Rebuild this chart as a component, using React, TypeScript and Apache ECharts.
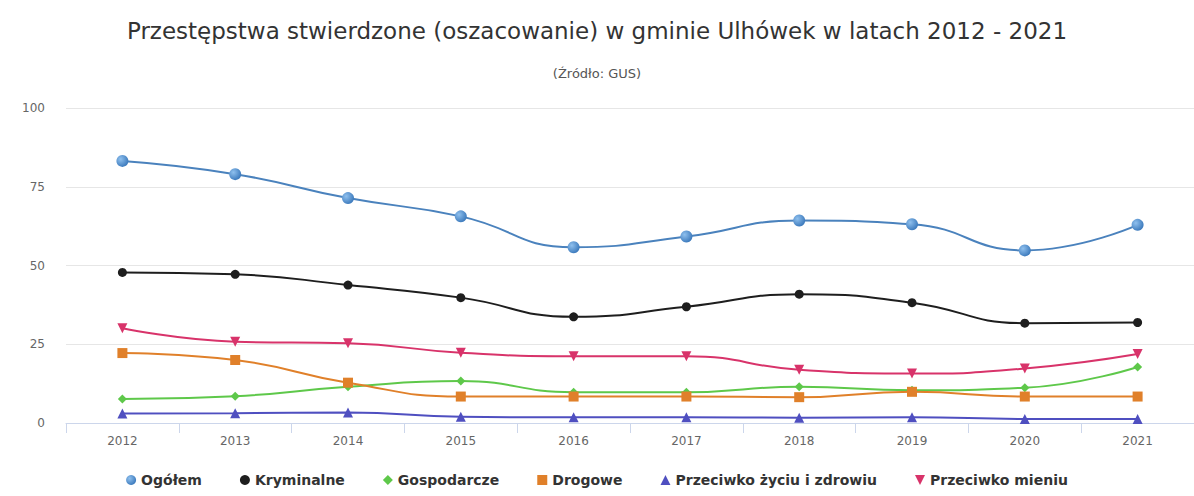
import React, { useEffect, useRef } from "react";
import * as echarts from "echarts";

const years = ["2012", "2013", "2014", "2015", "2016", "2017", "2018", "2019", "2020", "2021"];
const ogolem = [83.2, 79.0, 71.4, 65.6, 55.8, 59.2, 64.3, 63.1, 54.8, 62.9];
const kryminalne = [47.8, 47.2, 43.8, 39.8, 33.7, 36.9, 40.9, 38.2, 31.7, 31.9];
const gospodarcze = [7.6, 8.5, 11.5, 13.3, 9.8, 9.8, 11.5, 10.4, 11.2, 17.8];
const drogowe = [22.2, 20.0, 12.8, 8.4, 8.4, 8.4, 8.2, 9.9, 8.4, 8.4];
const zycie = [3.0, 3.1, 3.3, 2.0, 1.8, 1.8, 1.7, 1.8, 1.3, 1.3];
const mienie = [30.1, 25.8, 25.3, 22.3, 21.2, 21.2, 16.9, 15.7, 17.3, 21.9];
const yTicks = [0, 25, 50, 75, 100];

export default function App() {
  const ref = useRef<HTMLDivElement>(null);
  useEffect(() => {
    document.body.style.margin = "0";
    const chart = echarts.init(ref.current!, null, { renderer: "svg" });
    const mk = (name: string, data: number[], color: string, symbol: string, size: number, markerColor?: any) => ({
      name,
      type: "line",
      data,
      smooth: true,
      symbol,
      symbolSize: size,
      showSymbol: true,
      lineStyle: { color, width: 2 },
      itemStyle: { color: markerColor || color, borderWidth: 0 },
    });
    const blueGrad = new echarts.graphic.RadialGradient(0.35, 0.35, 0.7, [
      { offset: 0, color: "#8fc0ee" },
      { offset: 1, color: "#3a78bb" },
    ]);
    chart.setOption({
      animation: false,
      backgroundColor: "#ffffff",
      title: [
        {
          text: "Przestępstwa stwierdzone (oszacowanie) w gminie Ulhówek w latach 2012 - 2021",
          left: "center",
          top: 14,
          textStyle: { fontFamily: "DejaVu Sans", fontSize: 23, fontWeight: "normal", color: "#333333" },
        },
        {
          text: "(Źródło: GUS)",
          left: "center",
          top: 62,
          textStyle: { fontFamily: "DejaVu Sans", fontSize: 13, fontWeight: "normal", color: "#555555" },
        },
      ],
      legend: {
        bottom: 4,
        left: "center",
        itemWidth: 10,
        itemHeight: 10,
        itemGap: 38,
        textStyle: { fontFamily: "DejaVu Sans", fontSize: 14, fontWeight: "bold", color: "#333333" },
        data: [
          { name: "Ogółem", icon: "circle" },
          { name: "Kryminalne", icon: "circle" },
          { name: "Gospodarcze", icon: "diamond" },
          { name: "Drogowe", icon: "rect" },
          { name: "Przeciwko życiu i zdrowiu", icon: "triangle" },
          { name: "Przeciwko mieniu", icon: "path://M0,0 L10,0 L5,10 Z" },
        ],
      },
      grid: { left: 66, right: -2, top: 108, bottom: 73 },
      xAxis: {
        type: "category",
        data: years,
        boundaryGap: true,
        axisLine: { lineStyle: { color: "#ccd6eb" } },
        axisTick: { show: true, length: 10, lineStyle: { color: "#ccd6eb" } },
        axisLabel: { color: "#666666", fontSize: 12, margin: 12, fontFamily: "DejaVu Sans" },
      },
      yAxis: {
        type: "value",
        min: yTicks[0],
        max: yTicks[yTicks.length - 1],
        interval: 25,
        axisLine: { show: false },
        axisTick: { show: false },
        axisLabel: { color: "#666666", fontSize: 12, margin: 21, fontFamily: "DejaVu Sans" },
        splitLine: { lineStyle: { color: "#e6e6e6" } },
      },
      series: [
        mk("Ogółem", ogolem, "#4a82bd", "circle", 12, blueGrad),
        mk("Kryminalne", kryminalne, "#1e1e1e", "circle", 9),
        mk("Gospodarcze", gospodarcze, "#5ec84a", "diamond", 9),
        mk("Drogowe", drogowe, "#e0802a", "rect", 10),
        mk("Przeciwko życiu i zdrowiu", zycie, "#4f4fc0", "triangle", 10),
        mk("Przeciwko mieniu", mienie, "#d8336a", "path://M0,0 L10,0 L5,10 Z", 10),
      ],
    });
    return () => chart.dispose();
  }, []);
  return <div ref={ref} style={{ width: 1194, height: 496 }} />;
}
